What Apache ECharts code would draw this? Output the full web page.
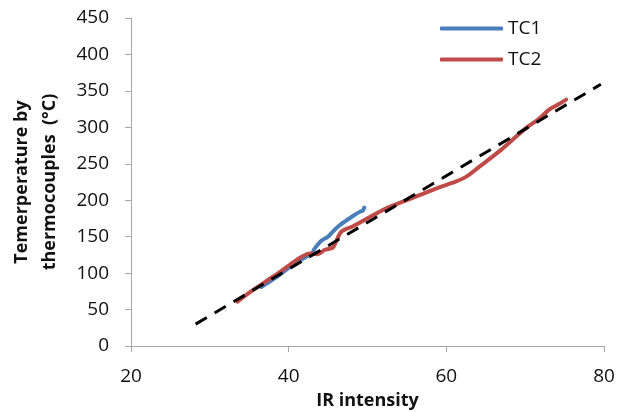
<!DOCTYPE html>
<html>
<head>
<meta charset="utf-8">
<script src="https://cdn.jsdelivr.net/npm/echarts@6/dist/echarts.min.js"></script>
<style>
  html, body { margin: 0; padding: 0; background: #fff; }
  #chart { width: 618px; height: 412px; }
</style>
</head>
<body>
<div id="chart"></div>
<script>
// TC1 (blue) - IR intensity vs thermocouple temperature
const tc1X = [36.5, 38.5, 40.5, 42.3, 43.0, 43.2, 43.6, 44.2, 45.0, 45.7, 46.5, 47.3, 48.1, 49.0, 49.4, 49.6];
const tc1Y = [81, 95, 111, 123, 127, 132, 138, 145, 150, 158, 166, 172, 178, 184, 186, 190];

// TC2 (red)
const tc2X = [33.5, 35.5, 38.0, 40.1, 41.6, 42.7, 43.7, 44.6, 45.6, 46.0, 46.7, 48.1, 50.3, 52.4, 54.5, 56.6, 58.7, 60.8, 62.5, 64.2, 66.7, 68.4, 70.1, 71.8, 73.0, 74.3, 75.2];
const tc2Y = [61, 77, 95, 111, 122, 127, 126, 132, 135, 143, 157, 164, 177, 189, 198, 207, 216, 224, 232, 246, 267, 283, 299, 312, 324, 332, 338];

// dashed reference line end points
const fitX = [28.2, 79.6];
const fitY = [30, 359];

const xTicks = [20, 40, 60, 80];
const yTicks = [0, 50, 100, 150, 200, 250, 300, 350, 400, 450];

const pairs = (xs, ys) => xs.map((x, i) => [x, ys[i]]);

const chart = echarts.init(document.getElementById('chart'));
const font = 'Open Sans';
const axisGrey = '#a6a6a6';

chart.setOption({
  animation: false,
  textStyle: { fontFamily: font },
  grid: { left: 131, right: 14, top: 18, bottom: 66, outerBoundsMode: 'none', containLabel: false },
  legend: {
    orient: 'vertical',
    left: 440,
    top: 19,
    padding: 0,
    itemWidth: 63,
    itemHeight: 4,
    itemGap: 12,
    icon: 'roundRect',
    data: ['TC1', 'TC2'],
    textStyle: { fontSize: 19, color: '#111', fontFamily: font }
  },
  xAxis: {
    type: 'value',
    min: xTicks[0],
    max: xTicks[xTicks.length - 1],
    interval: 20,
    name: 'IR intensity',
    nameLocation: 'middle',
    nameGap: 46,
    nameTextStyle: { fontSize: 18, fontWeight: 'bold', color: '#111' },
    axisLine: { lineStyle: { color: axisGrey, width: 1 } },
    axisTick: { show: true, length: 6, lineStyle: { color: axisGrey } },
    axisLabel: { fontSize: 19, color: '#111', margin: 21 },
    splitLine: { show: false }
  },
  yAxis: {
    type: 'value',
    min: yTicks[0],
    max: yTicks[yTicks.length - 1],
    interval: 50,
    name: 'Temerperature by\nthermocouples  (°C)',
    nameLocation: 'middle',
    nameGap: 67,
    nameTextStyle: { fontSize: 18, fontWeight: 'bold', color: '#111', lineHeight: 28 },
    axisLine: { show: true, lineStyle: { color: axisGrey, width: 1 } },
    axisTick: { show: true, length: 6, lineStyle: { color: axisGrey } },
    axisLabel: { fontSize: 19, color: '#111', margin: 22 },
    splitLine: { show: false }
  },
  series: [
    {
      name: 'TC1',
      type: 'line',
      data: pairs(tc1X, tc1Y),
      showSymbol: false,
      smooth: 0.3,
      color: '#4a7ebb',
      lineStyle: { width: 4, color: '#4a7ebb', cap: 'round', join: 'round' },
      z: 2
    },
    {
      name: 'TC2',
      type: 'line',
      data: pairs(tc2X, tc2Y),
      showSymbol: false,
      smooth: 0.3,
      color: '#be4b48',
      lineStyle: { width: 4, color: '#be4b48', cap: 'round', join: 'round' },
      z: 3
    },
    {
      name: 'fit',
      type: 'line',
      data: pairs(fitX, fitY),
      showSymbol: false,
      color: '#000',
      lineStyle: { width: 3, color: '#000', type: [13, 9] },
      z: 4
    }
  ]
});
</script>
</body>
</html>
